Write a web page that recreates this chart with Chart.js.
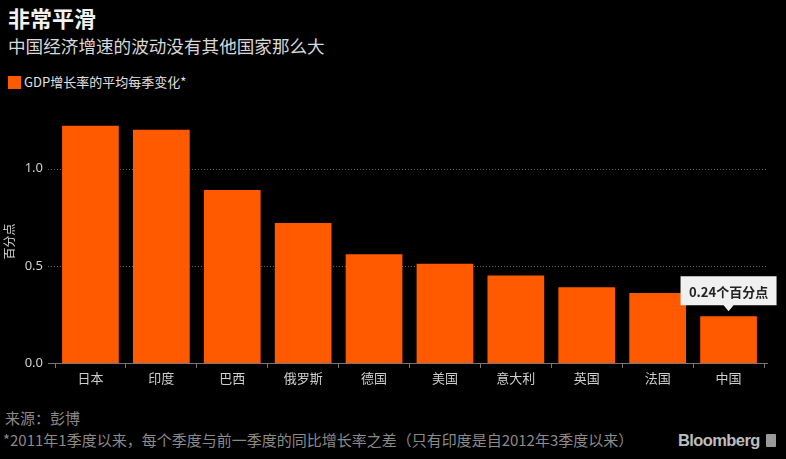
<!DOCTYPE html>
<html>
<head>
<meta charset="utf-8">
<script src="https://cdn.jsdelivr.net/npm/chart.js@4"></script>
<style>
  html, body { margin: 0; padding: 0; background: #000; }
  body { width: 786px; height: 459px; position: relative; overflow: hidden;
         font-family: "Noto Sans CJK SC", "Noto Sans", sans-serif; }
  .title { position: absolute; left: 8px; top: 1px; color: #f2f2f2; font-size: 22px; font-weight: bold; }
  .subtitle { position: absolute; left: 8px; top: 33px; color: #d8d8d8; font-size: 17.6px; }
  .legend { position: absolute; left: 8px; top: 72px; color: #e0e0e0; font-size: 13px; }
  .legend span.box { display: inline-block; width: 13px; height: 13px; background: #ff5a00;
                     vertical-align: -2px; margin-right: 3px; }
  .src { position: absolute; left: 5px; top: 407px; color: #8a8a8a; font-size: 15px; }
  .note { position: absolute; left: 3px; top: 429px; color: #8a8a8a; font-size: 15px; }
  .brand { position: absolute; left: 678px; top: 431px; color: #bdbdbd; font-size: 16.5px;
           font-weight: bold; font-family: "Liberation Sans", Arial, sans-serif; letter-spacing: -0.6px; }
  .brand i { display: inline-block; width: 10px; height: 13px; background: #9a9a9a; margin-left: 6px;
             vertical-align: -1px; border-radius: 1px; }
  #wrap { position: absolute; left: 0; top: 100px; width: 786px; height: 300px; }
</style>
</head>
<body>
<div class="title">非常平滑</div>
<div class="subtitle">中国经济增速的波动没有其他国家那么大</div>
<div class="legend"><span class="box"></span>GDP增长率的平均每季变化*</div>
<div id="wrap"><canvas id="barChart"></canvas></div>
<div class="src">来源：彭博</div>
<div class="note">*2011年1季度以来，每个季度与前一季度的同比增长率之差（只有印度是自2012年3季度以来）</div>
<div class="brand">Bloomberg<i></i></div>

<script>
// ===== DATA =====
const countries = ['日本', '印度', '巴西', '俄罗斯', '德国', '美国', '意大利', '英国', '法国', '中国'];
const avgChange = [1.22, 1.20, 0.89, 0.72, 0.56, 0.51, 0.45, 0.39, 0.36, 0.24];
const yTicks = [0, 0.5, 1.0];
const calloutText = '0.24个百分点';

const ORANGE = '#ff5a00';

// ===== EXTRA DRAWING: dotted grid, axis line, callout =====
const decor = {
  id: 'decor',
  beforeDatasetsDraw(chart) {
    const { ctx, scales: { y } } = chart;
    ctx.save();
    ctx.strokeStyle = '#666';
    ctx.lineWidth = 1;
    ctx.setLineDash([1, 2]);
    yTicks.forEach(v => {
      if (v === 0) return;
      const py = Math.round(y.getPixelForValue(v)) + 0.5;
      ctx.beginPath(); ctx.moveTo(48, py); ctx.lineTo(768, py); ctx.stroke();
    });
    ctx.restore();
  },
  afterDatasetsDraw(chart) {
    const { ctx, scales: { y } } = chart;
    ctx.save();
    const py = Math.round(y.getPixelForValue(0)) + 0.5;
    ctx.strokeStyle = '#777';
    ctx.lineWidth = 1;
    ctx.beginPath(); ctx.moveTo(48, py); ctx.lineTo(768, py); ctx.stroke();

    // callout over last bar
    const bar = chart.getDatasetMeta(0).data[countries.length - 1];
    const tipY = bar.y - 5;
    const bw = 96, bh = 29;
    const bx = bar.x - 48, by = tipY - 6 - bh;
    ctx.fillStyle = '#f0f0f0';
    ctx.beginPath();
    ctx.moveTo(bx, by);
    ctx.lineTo(bx + bw, by);
    ctx.lineTo(bx + bw, by + bh);
    ctx.lineTo(bar.x + 5, by + bh);
    ctx.lineTo(bar.x, tipY);
    ctx.lineTo(bar.x - 5, by + bh);
    ctx.lineTo(bx, by + bh);
    ctx.closePath();
    ctx.fill();
    ctx.fillStyle = '#222';
    ctx.font = 'bold 13px "Noto Sans CJK SC", sans-serif';
    ctx.textAlign = 'center';
    ctx.textBaseline = 'middle';
    ctx.fillText(calloutText, bx + bw / 2, by + bh / 2 + 1);
    ctx.restore();
  }
};

document.addEventListener('DOMContentLoaded', () => {
  const ctx = document.getElementById('barChart');
  new Chart(ctx, {
    type: 'bar',
    data: {
      labels: countries,
      datasets: [{
        label: 'GDP增长率的平均每季变化*',
        data: avgChange,
        backgroundColor: ORANGE,
        barPercentage: 0.8,
        categoryPercentage: 1.0
      }]
    },
    options: {
      responsive: true,
      maintainAspectRatio: false,
      animation: false,
      layout: { padding: { top: 20, right: 22, left: 0, bottom: 0 } },
      plugins: { legend: { display: false }, tooltip: { enabled: false } },
      scales: {
        x: {
          grid: { display: true, drawOnChartArea: false, drawTicks: true, tickLength: 5, color: '#777' },
          border: { display: false },
          ticks: { color: '#cfcfcf', font: { family: 'Noto Sans CJK SC', size: 13 }, padding: 2 },
          afterFit(scale) { scale.height = 37; }
        },
        y: {
          min: 0,
          max: 1.25,
          grid: { display: false },
          border: { display: false },
          afterBuildTicks(scale) { scale.ticks = yTicks.map(v => ({ value: v })); },
          ticks: {
            color: '#cfcfcf',
            font: { family: 'Noto Sans', size: 13 },
            padding: 4,
            callback: v => Number(v).toFixed(1)
          },
          title: {
            display: true,
            text: '百分点',
            color: '#cfcfcf',
            font: { family: 'Noto Sans CJK SC', size: 12 },
            padding: { top: 2, bottom: 0 }
          },
          afterFit(scale) { scale.width = 55; }
        }
      }
    },
    plugins: [decor]
  });
});
</script>
</body>
</html>
